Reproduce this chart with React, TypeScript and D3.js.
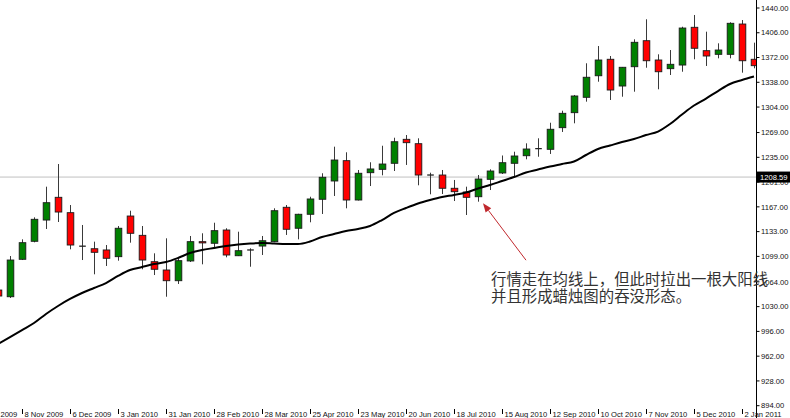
import React from "react";
import * as d3 from "d3";

// Weekly candles, first week starting 25 Oct 2009
const startWeek = "2009-10-25";
const openV = [1052.8,1043.6,1095.0,1119.7,1148.9,1180.1,1159.0,1113.0,1109.5,1107.8,1098.6,1154.4,1127.9,1091.7,1080.3,1065.6,1092.7,1119.2,1117.0,1135.2,1099.9,1107.8,1113.2,1119.2,1166.4,1137.6,1156.8,1177.4,1202.5,1230.4,1176.4,1213.9,1218.5,1226.8,1259.7,1253.7,1210.7,1210.7,1192.5,1187.4,1180.9,1204.8,1213.5,1226.8,1237.2,1247.0,1246.0,1275.7,1296.3,1317.4,1347.0,1369.6,1332.9,1359.4,1395.1,1368.6,1356.7,1361.7,1413.5,1381.4,1376.4,1376.4,1418.0,1369.6];
const highV = [1058.3,1099.5,1122.4,1152.6,1194.7,1225.8,1169.5,1142.1,1119.2,1114.6,1140.7,1161.7,1140.7,1103.2,1123.8,1095.4,1127.0,1130.7,1145.2,1137.6,1132.9,1110.1,1127.0,1165.0,1169.5,1157.5,1180.9,1213.1,1249.6,1241.9,1217.6,1228.2,1250.9,1261.9,1265.6,1261.1,1213.9,1217.6,1203.9,1194.7,1210.7,1218.5,1237.5,1242.7,1254.2,1261.1,1282.5,1299.0,1320.6,1364.1,1387.8,1374.1,1359.0,1397.0,1424.5,1376.4,1382.3,1414.3,1430.4,1407.5,1391.5,1420.4,1423.5,1392.4];
const lowV = [1040.5,1041.9,1094.0,1118.3,1136.6,1146.2,1108.7,1094.0,1074.4,1085.8,1093.1,1117.8,1081.3,1073.4,1043.6,1061.1,1091.3,1088.1,1110.1,1097.7,1099.5,1084.8,1100.9,1118.5,1128.4,1122.4,1145.8,1157.2,1181.9,1165.0,1175.7,1195.6,1210.3,1216.2,1224.5,1196.6,1184.2,1184.6,1175.0,1155.8,1174.1,1190.1,1212.1,1209.3,1232.3,1235.8,1239.6,1269.8,1281.7,1311.4,1338.8,1313.7,1318.2,1325.1,1358.0,1328.4,1348.0,1352.5,1369.6,1360.4,1370.9,1370.9,1351.2,1357.2];
const closeV = [1044.6,1094.0,1117.8,1149.9,1172.7,1159.9,1114.6,1113.0,1104.6,1096.4,1137.6,1130.7,1094.0,1081.3,1065.6,1093.1,1119.2,1117.5,1134.3,1100.9,1106.8,1107.8,1120.5,1161.7,1136.2,1156.8,1177.8,1207.6,1231.3,1176.4,1213.1,1219.0,1225.8,1256.4,1255.1,1210.7,1210.7,1192.5,1187.8,1180.1,1205.2,1216.2,1227.6,1236.8,1246.4,1247.0,1273.5,1295.4,1319.2,1344.9,1368.6,1327.4,1358.6,1392.9,1367.6,1352.5,1362.7,1412.5,1384.7,1374.1,1382.3,1419.0,1367.6,1360.8];
const maV = [978.7,988.3,997.9,1007.5,1019.9,1030.9,1040.5,1048.7,1055.6,1062.4,1072.1,1080.3,1084.4,1088.5,1091.3,1096.8,1103.6,1107.8,1110.5,1113.2,1115.3,1116.7,1117.4,1116.7,1116.0,1116.0,1119.4,1125.6,1129.7,1133.8,1136.6,1140.7,1148.9,1158.6,1165.4,1171.6,1176.4,1180.5,1183.3,1186.7,1192.2,1197.0,1202.5,1208.0,1214.2,1218.3,1222.4,1225.8,1229.3,1238.2,1246.4,1251.2,1256.0,1260.1,1265.6,1270.4,1280.7,1293.8,1306.1,1315.7,1326.0,1335.7,1341.1,1346.0];

const xTickLabels = ["11 Oct 2009","8 Nov 2009","6 Dec 2009","3 Jan 2010","31 Jan 2010","28 Feb 2010","28 Mar 2010","25 Apr 2010","23 May 2010","20 Jun 2010","18 Jul 2010","15 Aug 2010","12 Sep 2010","10 Oct 2010","7 Nov 2010","5 Dec 2010","2 Jan 2011"];
const yTickLabels = ["1440.00","1406.00","1372.00","1338.00","1304.00","1269.00","1235.00","1201.00","1167.00","1133.00","1099.00","1064.00","1030.00","996.00","962.00","928.00","894.00"];
const currentPrice = 1208.59;
const signalIndex = 40;
const noteLines = ["行情走在均线上，但此时拉出一根大阳线", "并且形成蜡烛图的吞没形态。"];

const W = 790, H = 418;
const AXIS_X = 756.5;

export default function App() {
  const t0 = new Date(startWeek + "T00:00:00Z");
  const dates = openV.map((_, i) => d3.utcWeek.offset(t0, i));
  const x = d3.scaleUtc().domain([dates[0], dates[dates.length - 1]]).range([-2, 754]);
  const y = d3.scaleLinear().domain([894, 1440]).range([405.7, 8]);
  const parse = d3.utcParse("%e %b %Y");

  const maLine = d3.line<number>().x((_, i) => x(dates[i])).y(d => y(d)).curve(d3.curveMonotoneX)(maV) || "";

  const bw = 6.6;
  const tipX = x(dates[signalIndex]) + 5;
  const tipY = y(lowV[signalIndex]) + 1.5;
  const tailX = tipX + 43, tailY = tipY + 57;
  const ang = Math.atan2(tipY - tailY, tipX - tailX);
  const ah = 9, aw = 3.5;
  const bx = tipX - ah * Math.cos(ang), by = tipY - ah * Math.sin(ang);
  const head = `M${tipX},${tipY}L${bx + aw * Math.sin(ang)},${by - aw * Math.cos(ang)}L${bx - aw * Math.sin(ang)},${by + aw * Math.cos(ang)}Z`;

  return (
    <svg width={W} height={H} style={{ position: "absolute", left: 0, top: 0, background: "#fff" }}
      fontFamily="'Liberation Sans', Arial, sans-serif">
      <rect x={0} y={0} width={W} height={H} fill="#fff" />
      <defs>
        <clipPath id="plot"><rect x={0} y={0} width={AXIS_X} height={H} /></clipPath>
      </defs>
      {/* current price line */}
      <line x1={0} x2={AXIS_X} y1={y(currentPrice) + 0.5} y2={y(currentPrice) + 0.5} stroke="#c0c0c0" strokeWidth={1} />
      <g clipPath="url(#plot)">
        {openV.map((o, i) => {
          const c = closeV[i];
          const cx = Math.round(x(dates[i])) + 0.5;
          const up = c > o;
          const doji = Math.abs(c - o) < 0.3;
          const top = y(Math.max(o, c)), bot = y(Math.min(o, c));
          return (
            <g key={i}>
              <line x1={cx} x2={cx} y1={y(highV[i])} y2={y(lowV[i])} stroke="#3a3a3a" strokeWidth={1} />
              {doji ? (
                <line x1={cx - bw / 2} x2={cx + bw / 2} y1={top} y2={top} stroke="#222" strokeWidth={1.3} />
              ) : (
                <rect x={cx - bw / 2} y={top} width={bw} height={Math.max(1, bot - top)}
                  fill={up ? "#008000" : "#ff0000"} stroke="#1a1a1a" strokeWidth={0.9} />
              )}
            </g>
          );
        })}
        <path d={maLine} fill="none" stroke="#000" strokeWidth={2} />
      </g>
      {/* right axis */}
      <line x1={AXIS_X} x2={AXIS_X} y1={0} y2={H} stroke="#000" strokeWidth={1} />
      {yTickLabels.map(l => {
        const yy = y(+l);
        return (
          <g key={l}>
            <line x1={AXIS_X} x2={AXIS_X + 3} y1={yy} y2={yy} stroke="#000" />
            <text x={761} y={yy + 2.7} fontSize={7.6} fill="#111">{l}</text>
          </g>
        );
      })}
      <rect x={757} y={y(currentPrice) - 5} width={33} height={11} fill="#000" />
      <text x={760} y={y(currentPrice) + 3.2} fontSize={7.6} fill="#fff">{currentPrice.toFixed(2)}</text>
      {/* bottom axis */}
      {xTickLabels.map(l => {
        const xx = Math.round(x(parse(l) as Date)) + 0.5;
        return (
          <g key={l}>
            <line x1={xx} x2={xx} y1={409} y2={414} stroke="#000" />
            <text x={xx + 2} y={417} fontSize={7.6} fill="#111">{l}</text>
          </g>
        );
      })}
      {/* annotation */}
      <line x1={tailX} y1={tailY} x2={bx} y2={by} stroke="#c0282d" strokeWidth={1} />
      <path d={head} fill="#c0282d" />
      {noteLines.map((t, i) => (
        <text key={i} x={491} y={284.5 + i * 17} fontSize={15.4}
          fontFamily="'Noto Sans CJK SC', sans-serif" fill="#333">{t}</text>
      ))}
    </svg>
  );
}
